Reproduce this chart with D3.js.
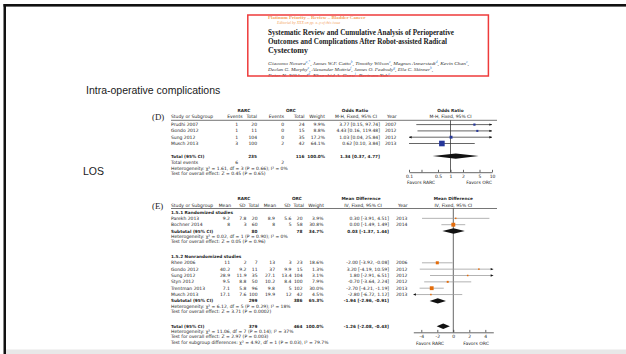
<!DOCTYPE html>
<html><head><meta charset="utf-8">
<script src="https://cdn.jsdelivr.net/npm/d3@7"></script>
<style>body{margin:0;background:#fff}svg{display:block}</style>
</head><body>
<script>
// ---------- Intra-operative complications (odds ratio) ----------
const orStudies   = ["Prudhi 2007", "Gondo 2012", "Sung 2012", "Musch 2013"];
const orRarcEvt   = [1, 1, 1, 3];
const orRarcN     = [20, 11, 104, 100];
const orOrcEvt    = [0, 0, 0, 2];
const orOrcN      = [24, 15, 35, 42];
const orWeight    = [9.9, 8.8, 17.2, 64.1];
const orEst       = [3.77, 4.43, 1.03, 0.62];
const orLow       = [0.15, 0.16, 0.04, 0.10];
const orHigh      = [97.74, 119.48, 25.84, 3.84];
const orYear      = [2007, 2012, 2012, 2013];
const orPooled    = [1.34, 0.37, 4.77];      // estimate, low, high
const orTotalN    = [235, 116];
const orTotalEvt  = [6, 2];
const orStats     = ["Heterogeneity: χ² = 1.61, df = 3 (P = 0.66); I² = 0%",
                     "Test for overall effect: Z = 0.45 (P = 0.65)"];
const orTicks     = [0.1, 0.2, 0.5, 1, 2, 5, 10];
const orTickText  = ["0.1", "", "0.5", "1", "2", "5", "10"];

// ---------- Length of stay (mean difference) ----------
const mdStudies   = ["Parekh 2013", "Bochner 2014", "Rhee 2006", "Gondo 2012", "Sung 2012", "Styn 2012", "Trentman 2013", "Musch 2013"];
const mdGroup     = [0, 0, 1, 1, 1, 1, 1, 1];
const mdRarcMean  = ["9.2", "8", "11", "40.2", "28.9", "9.5", "7.1", "17.1"];
const mdRarcSD    = ["7.8", "3", "2", "9.2", "11.9", "8.8", "5.8", "7.6"];
const mdRarcN     = [20, 60, 7, 11, 35, 50, 96, 100];
const mdOrcMean   = ["8.9", "8", "13", "37", "27.1", "10.2", "9.8", "19.9"];
const mdOrcSD     = ["5.6", "5", "3", "9.9", "13.4", "8.4", "5", "12"];
const mdOrcN      = [20, 58, 23, 15, 104, 100, 102, 42];
const mdWeight    = [3.9, 30.8, 18.6, 1.3, 3.1, 7.9, 30.0, 4.5];
const mdEst       = [0.30, 0.00, -2.00, 3.20, 1.80, -0.70, -2.70, -2.80];
const mdLow       = [-3.91, -1.49, -3.92, -4.19, -2.91, -3.64, -4.21, -6.72];
const mdHigh      = [4.51, 1.49, -0.08, 10.59, 6.51, 2.24, -1.19, 1.12];
const mdYear      = [2013, 2014, 2006, 2012, 2012, 2012, 2013, 2013];
const mdGroupName = ["1.5.1 Randomized studies", "1.5.2 Nonrandomized studies"];
const mdSubEst    = [[0.03, -1.37, 1.44], [-1.94, -2.96, -0.91]];
const mdSubN      = [[80, 78], [299, 386]];
const mdSubWeight = ["34.7%", "65.3%"];
const mdSubStats  = [["Heterogeneity: χ² = 0.02, df = 1 (P = 0.90); I² = 0%", "Test for overall effect: Z = 0.05 (P = 0.96)"],
                     ["Heterogeneity: χ² = 6.12, df = 5 (P = 0.29); I² = 18%", "Test for overall effect: Z = 3.71 (P = 0.0002)"]];
const mdPooled    = [-1.26, -2.08, -0.43];
const mdTotalN    = [379, 464];
const mdStats     = ["Heterogeneity: χ² = 11.06, df = 7 (P = 0.14); I² = 37%",
                     "Test for overall effect: Z = 2.97 (P = 0.003)",
                     "Test for subgroup differences: χ² = 4.92, df = 1 (P = 0.03), I² = 79.7%"];
const mdTicks     = [-4, -2, 0, 2, 4];

// ---------- article header ----------
const paperKicker = "Platinum Priority – Review – Bladder Cancer";
const paperNote   = "Editorial by XXX on pp. x–y of this issue";
const paperTitle  = ["Systematic Review and Cumulative Analysis of Perioperative",
                     "Outcomes and Complications After Robot-assisted Radical",
                     "Cystectomy"];
const paperAuthors = [
  [["Giacomo Novara", "a,*"], ["James W.F. Catto", "b"], ["Timothy Wilson", "c"], ["Magnus Annerstedt", "d"], ["Kevin Chan", "c"]],
  [["Declan G. Murphy", "e"], ["Alexander Mottrie", "f"], ["James O. Peabody", "g"], ["Ella C. Skinner", "h"]],
  [["Peter N. Wiklund", "d"], ["Khurshid A. Guru", "i"], ["Bertram Yuh", "c"]]
];

const fmt2 = d3.format(".2f");
const fmtPct = d => d3.format(".1f")(d) + "%";
const signed = v => (v < 0 ? "-" : "") + fmt2(Math.abs(v));
const ciText = (e, l, h, f) => `${f(e)} [${f(l)}, ${f(h)}]`;

const svg = d3.select("body").append("svg").attr("width", 626).attr("height", 354);
svg.append("rect").attr("width", 626).attr("height", 354).attr("fill", "#fff");

// slide frame
svg.append("rect").attr("x", 3.5).attr("y", 4).attr("width", 622.5).attr("height", 2.6).attr("fill", "#111");
svg.append("rect").attr("x", 3.5).attr("y", 4).attr("width", 2.5).attr("height", 350).attr("fill", "#111");
svg.append("rect").attr("x", 6).attr("y", 349.5).attr("width", 620).attr("height", 4.5).attr("fill", "#e8e8e8");

// table text
const TF = "'DejaVu Sans', Verdana, sans-serif";
const TSIZE = 4.5, TFILL = "#1e1e1e";
const BOLD = {weight: 700, size: 4.25};
function txt(g, x, y, s, o = {}) {
  return g.append("text").attr("x", x).attr("y", y)
    .attr("dominant-baseline", "central")
    .attr("font-family", o.family || TF).attr("font-size", o.size || TSIZE)
    .attr("font-weight", o.weight || 400).attr("font-style", o.style || "normal")
    .attr("text-anchor", o.anchor || "start").attr("fill", o.fill || TFILL).text(s);
}
const B = extra => Object.assign({}, BOLD, extra);

// ---------- article header card ----------
const card = svg.append("g");
const SERIF = "'Liberation Serif', 'DejaVu Serif', serif";
card.append("clipPath").attr("id", "cardclip").append("rect").attr("x", 247).attr("y", 14).attr("width", 242).attr("height", 62.5);
const cardIn = card.append("g").attr("clip-path", "url(#cardclip)");
txt(cardIn, 268, 17, paperKicker, {family: SERIF, size: 5, weight: 700, fill: "#f4a460"});
txt(cardIn, 277, 22.8, paperNote, {family: SERIF, size: 3.9, style: "italic", fill: "#f4a460"});
const titleLen = [186, 179, null];
paperTitle.forEach((t, i) => {
  const el = txt(cardIn, 268, 32.7 + i * 8.8, t, {family: SERIF, size: 8, weight: 700, fill: "#1a1a1a"});
  if (titleLen[i]) el.attr("textLength", titleLen[i]).attr("lengthAdjust", "spacingAndGlyphs");
});
const authorLen = [201, 165, 122];
paperAuthors.forEach((line, i) => {
  const t = txt(cardIn, 268, 63.3 + i * 5.9, null, {family: SERIF, size: 4.5, style: "italic", fill: "#333"})
    .attr("textLength", authorLen[i]).attr("lengthAdjust", "spacingAndGlyphs");
  line.forEach(([name, sup], j) => {
    t.append("tspan").text(name);
    t.append("tspan").attr("font-size", 3).attr("dy", -1.3).attr("fill", "#2d7fd0").text(sup);
    t.append("tspan").attr("dy", 1.3).text(j < line.length - 1 || i < 2 ? ", " : "");
  });
});
card.append("rect").attr("x", 247.8).attr("y", 15).attr("width", 240.6).attr("height", 61)
  .attr("fill", "none").attr("stroke", "#ee3b3b").attr("stroke-width", 1.5);

// ---------- section headings ----------
const HF = "'Liberation Sans', Arial, sans-serif";
txt(svg, 86, 89.5, "Intra-operative complications", {family: HF, size: 10.5, fill: "#1a1a1a"});
txt(svg, 83, 170.5, "LOS", {family: HF, size: 10.5, fill: "#1a1a1a"});

// shared drawing helpers
function ciLine(g, xs, lo, hi, y, color) {
  const [d0, d1] = xs.domain();
  const a = Math.max(lo, d0), b = Math.min(hi, d1);
  g.append("line").attr("x1", xs(a)).attr("x2", xs(b)).attr("y1", y).attr("y2", y)
    .attr("stroke", color).attr("stroke-width", 0.75);
  const arrow = (xe, dir) => g.append("path")
    .attr("d", `M${xe},${y}L${xe - dir * 2.6},${y - 1.2}L${xe - dir * 2.6},${y + 1.2}Z`).attr("fill", "#111");
  if (lo < d0) arrow(xs(d0), -1);
  if (hi > d1) arrow(xs(d1), 1);
}
function square(g, xs, est, w, y, color) {
  const s = Math.max(1.5, 0.7 * Math.sqrt(w));
  g.append("rect").attr("x", xs(est) - s / 2).attr("y", y - s / 2).attr("width", s).attr("height", s).attr("fill", color);
}
function diamond(g, xs, [e, l, h], y) {
  g.append("path").attr("d", `M${xs(l)},${y}L${xs(e)},${y - 2.7}L${xs(h)},${y}L${xs(e)},${y + 2.7}Z`).attr("fill", "#111");
}
function axis(g, xs, y, ticks, labels) {
  const ax = g.append("g").attr("transform", `translate(0,${y})`)
    .call(d3.axisBottom(xs).tickValues(ticks).tickFormat((d, i) => labels[i]).tickSizeInner(-2.4).tickSizeOuter(0).tickPadding(2.4));
  ax.select(".domain").attr("stroke", "#333").attr("stroke-width", 0.75);
  ax.selectAll(".tick line").attr("stroke", "#333").attr("stroke-width", 0.75);
  ax.selectAll("text").attr("font-family", TF).attr("font-size", TSIZE).attr("fill", TFILL);
}

const NAME_X = 171;

// ---------- (D) forest plot ----------
const gD = svg.append("g");
const xD = d3.scaleLog().domain([0.1, 10]).range([409, 492]);
const yD = d3.scaleLinear().domain([0, 1]).range([124.6, 130.9]);
const hD1 = 110, hD2 = 116.6, lineD = 120.3, axisD = 172.2;
const cD = {ev1: 238, n1: 257, ev2: 284, n2: 304.5, w: 325, ci: 380, yr: 385};
txt(gD, 152, 117, "(D)", {family: SERIF, size: 8.8, fill: "#222"});
[["RARC", 244], ["ORC", 291], ["Odds Ratio", 355], ["Odds Ratio", 450.5]].forEach(([s, x]) =>
  txt(gD, x, hD1, s, B({anchor: "middle"})));
txt(gD, NAME_X, hD2, "Study or Subgroup");
[["Events", 242.5], ["Total", cD.n1], ["Events", cD.ev2], ["Total", cD.n2], ["Weight", cD.w]].forEach(([s, x]) =>
  txt(gD, x, hD2, s, {anchor: "end"}));
txt(gD, 356, hD2, "M-H, Fixed, 95% CI", {anchor: "middle"});
txt(gD, 387, hD2, "Year");
txt(gD, 450.5, hD2, "M-H, Fixed, 95% CI", {anchor: "middle"});
gD.append("line").attr("x1", NAME_X).attr("x2", 497).attr("y1", lineD).attr("y2", lineD).attr("stroke", "#666").attr("stroke-width", 0.9);
gD.append("line").attr("x1", xD(1)).attr("x2", xD(1)).attr("y1", lineD).attr("y2", axisD).attr("stroke", "#333").attr("stroke-width", 0.75);

orStudies.forEach((s, i) => {
  const y = yD(i);
  txt(gD, NAME_X, y, s);
  txt(gD, cD.ev1, y, orRarcEvt[i], {anchor: "end"});
  txt(gD, cD.n1, y, orRarcN[i], {anchor: "end"});
  txt(gD, cD.ev2, y, orOrcEvt[i], {anchor: "end"});
  txt(gD, cD.n2, y, orOrcN[i], {anchor: "end"});
  txt(gD, cD.w, y, fmtPct(orWeight[i]), {anchor: "end"});
  txt(gD, cD.ci, y, ciText(orEst[i], orLow[i], orHigh[i], fmt2), {anchor: "end"});
  txt(gD, cD.yr, y, orYear[i]);
  ciLine(gD, xD, orLow[i], orHigh[i], y, "#333");
  square(gD, xD, orEst[i], orWeight[i], y, "#26379a");
});
const yTot = yD(5);
txt(gD, NAME_X, yTot, "Total (95% CI)", B());
txt(gD, cD.n1, yTot, orTotalN[0], B({anchor: "end"}));
txt(gD, cD.n2, yTot, orTotalN[1], B({anchor: "end"}));
txt(gD, cD.w, yTot, "100.0%", B({anchor: "end"}));
txt(gD, cD.ci, yTot, ciText(...orPooled, fmt2), B({anchor: "end"}));
diamond(gD, xD, orPooled, yTot);
const yEv = yD(6);
txt(gD, NAME_X, yEv, "Total events");
txt(gD, cD.ev1, yEv, orTotalEvt[0], {anchor: "end"});
txt(gD, cD.ev2, yEv, orTotalEvt[1], {anchor: "end"});
orStats.forEach((s, i) => txt(gD, NAME_X, yEv + 5.7 * (i + 1), s));
axis(gD, xD, axisD, orTicks, orTickText);
txt(gD, 421, axisD + 10.3, "Favors RARC", {anchor: "middle"});
txt(gD, 479, axisD + 10.3, "Favors ORC", {anchor: "middle"});

// ---------- (E) forest plot ----------
const gE = svg.append("g");
const xE = d3.scaleLinear().domain([-5, 5]).range([413.3, 493.3]);
const yE = d3.scaleLinear().domain([0, 1]).range([212, 218.35]);
const hE1 = 198.5, hE2 = 205, lineE = 208.5, axisE = 332.3;
const cE = {m1: 230, s1: 246.5, n1: 257.5, m2: 275, s2: 291.5, n2: 302.5, w: 323.5, ci: 389, yr: 396};
txt(gE, 152, 205.5, "(E)", {family: SERIF, size: 8.8, fill: "#222"});
[["RARC", 244], ["ORC", 297], ["Mean Difference", 361], ["Mean Difference", 453.3]].forEach(([s, x]) =>
  txt(gE, x, hE1, s, B({anchor: "middle"})));
txt(gE, NAME_X, hE2, "Study or Subgroup");
[["Mean", 231], ["SD", 245.5], ["Total", 259], ["Mean", 276], ["SD", 290.5], ["Total", 304], ["Weight", 324]].forEach(([s, x]) =>
  txt(gE, x, hE2, s, {anchor: "end"}));
txt(gE, 363, hE2, "IV, Fixed, 95% CI", {anchor: "middle"});
txt(gE, 398, hE2, "Year");
txt(gE, 453.3, hE2, "IV, Fixed, 95% CI", {anchor: "middle"});
gE.append("line").attr("x1", NAME_X).attr("x2", 497).attr("y1", lineE).attr("y2", lineE).attr("stroke", "#666").attr("stroke-width", 0.9);
gE.append("line").attr("x1", xE(0)).attr("x2", xE(0)).attr("y1", lineE).attr("y2", axisE).attr("stroke", "#333").attr("stroke-width", 0.75);

let row = 0;
mdGroupName.forEach((gname, gi) => {
  txt(gE, NAME_X, yE(row++), gname, B());
  mdStudies.forEach((s, i) => {
    if (mdGroup[i] !== gi) return;
    const y = yE(row++);
    txt(gE, NAME_X, y, s);
    txt(gE, cE.m1, y, mdRarcMean[i], {anchor: "end"});
    txt(gE, cE.s1, y, mdRarcSD[i], {anchor: "end"});
    txt(gE, cE.n1, y, mdRarcN[i], {anchor: "end"});
    txt(gE, cE.m2, y, mdOrcMean[i], {anchor: "end"});
    txt(gE, cE.s2, y, mdOrcSD[i], {anchor: "end"});
    txt(gE, cE.n2, y, mdOrcN[i], {anchor: "end"});
    txt(gE, cE.w, y, fmtPct(mdWeight[i]), {anchor: "end"});
    txt(gE, cE.ci, y, ciText(mdEst[i], mdLow[i], mdHigh[i], signed), {anchor: "end"});
    txt(gE, cE.yr, y, mdYear[i]);
    ciLine(gE, xE, mdLow[i], mdHigh[i], y, "#9a9a9a");
    square(gE, xE, mdEst[i], mdWeight[i], y, "#e46c0a");
  });
  const ys = yE(row++);
  txt(gE, NAME_X, ys, "Subtotal (95% CI)", B());
  txt(gE, cE.n1, ys, mdSubN[gi][0], B({anchor: "end"}));
  txt(gE, cE.n2, ys, mdSubN[gi][1], B({anchor: "end"}));
  txt(gE, cE.w, ys, mdSubWeight[gi], B({anchor: "end"}));
  txt(gE, cE.ci, ys, ciText(...mdSubEst[gi], signed), B({anchor: "end"}));
  diamond(gE, xE, mdSubEst[gi], ys);
  mdSubStats[gi].forEach((s, k) => txt(gE, NAME_X, ys + 5.3 * (k + 1), s));
  row += 3;   // two statistics lines plus a gap
});
const yT = yE(row);
txt(gE, NAME_X, yT, "Total (95% CI)", B());
txt(gE, cE.n1, yT, mdTotalN[0], B({anchor: "end"}));
txt(gE, cE.n2, yT, mdTotalN[1], B({anchor: "end"}));
txt(gE, cE.w, yT, "100.0%", B({anchor: "end"}));
txt(gE, cE.ci, yT, ciText(...mdPooled, signed), B({anchor: "end"}));
diamond(gE, xE, mdPooled, yT);
mdStats.forEach((s, k) => txt(gE, NAME_X, yT + 5.3 * (k + 1), s));
axis(gE, xE, axisE, mdTicks, mdTicks.map(String));
txt(gE, 430, axisE + 10.7, "Favors RARC", {anchor: "middle"});
txt(gE, 476, axisE + 10.7, "Favors ORC", {anchor: "middle"});
</script>
</body></html>
